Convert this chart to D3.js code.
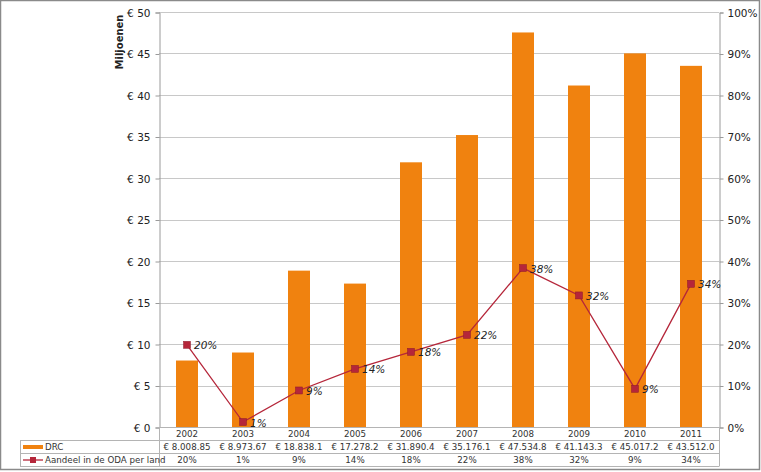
<!DOCTYPE html>
<html>
<head>
<meta charset="utf-8">
<script src="https://cdn.jsdelivr.net/npm/d3@7"></script>
<style>
  body { margin: 0; background: #fff; }
  text { font-family: "DejaVu Sans", Verdana, sans-serif; fill: #222; }
</style>
</head>
<body>
<div id="chart"></div>
<script>
// data
const years = ["2002","2003","2004","2005","2006","2007","2008","2009","2010","2011"];
const drc = [8.00885, 8.97367, 18.8381, 17.2782, 31.8904, 35.1761, 47.5348, 41.1433, 45.0172, 43.5120];
const drcLabels = ["€ 8.008.85","€ 8.973.67","€ 18.838.1","€ 17.278.2","€ 31.890.4","€ 35.176.1","€ 47.534.8","€ 41.143.3","€ 45.017.2","€ 43.512.0"];
const share = [19.8, 1.2, 8.8, 14.0, 18.1, 22.2, 38.3, 31.7, 9.2, 34.5];
const shareLabels = ["20%","1%","9%","14%","18%","22%","38%","32%","9%","34%"];
const leftTicks = [0,5,10,15,20,25,30,35,40,45,50];
const rightTicks = [0,10,20,30,40,50,60,70,80,90,100];

const W = 761, H = 472;
const plot = {left: 159, right: 719, top: 12, bottom: 427};
const tableLeft = 20, rowH = 13;
const font = "DejaVu Sans, Verdana, sans-serif";

const svg = d3.select("#chart").append("svg")
    .attr("width", W).attr("height", H);

// outer frame
svg.append("rect")
    .attr("x", 0.5).attr("y", 0.5).attr("width", W - 2).attr("height", H - 3)
    .attr("fill", "none").attr("stroke", "#8a8a8a").attr("stroke-width", 1.5);

const x = d3.scaleBand().domain(years).range([plot.left, plot.right]);
const y = d3.scaleLinear().domain([0, 50]).range([plot.bottom, plot.top]);
const y2 = d3.scaleLinear().domain([0, 100]).range([plot.bottom, plot.top]);

// gridlines
svg.append("g").selectAll("line")
  .data(leftTicks.filter(d => d > 0))
  .join("line")
    .attr("x1", plot.left).attr("x2", plot.right)
    .attr("y1", d => Math.round(y(d)) + 0.5).attr("y2", d => Math.round(y(d)) + 0.5)
    .attr("stroke", "#c8c8c8");

// left axis
const gl = svg.append("g").attr("transform", "translate(" + (plot.left + 0.5) + ",0.5)")
    .call(d3.axisLeft(y).tickValues(leftTicks).tickSize(4).tickFormat(d => "€ " + d));
gl.select(".domain").attr("stroke", "#9a9a9a");
gl.selectAll(".tick line").attr("stroke", "#9a9a9a");
gl.selectAll(".tick text").attr("x", -9).attr("dy", "0.35em")
    .style("font-size", "10.5px").style("fill", "#222").style("font-family", font);

// right axis
const gr = svg.append("g").attr("transform", "translate(" + (plot.right + 0.5) + ",0.5)")
    .call(d3.axisRight(y2).tickValues(rightTicks).tickSize(4).tickFormat(d => d + "%"));
gr.select(".domain").attr("stroke", "#9a9a9a");
gr.selectAll(".tick line").attr("stroke", "#9a9a9a");
gr.selectAll(".tick text").attr("x", 8).attr("dy", "0.35em")
    .style("font-size", "10.5px").style("fill", "#222").style("font-family", font);

// axis title
svg.append("text")
    .attr("transform", "translate(123,42) rotate(-90)")
    .attr("text-anchor", "middle")
    .style("font-size", "10px").style("font-weight", "bold")
    .text("Miljoenen");

// bars
const barW = 22;
svg.append("g").selectAll("rect")
  .data(drc)
  .join("rect")
    .attr("x", (d, i) => x(years[i]) + x.bandwidth() / 2 - barW / 2)
    .attr("y", d => y(d))
    .attr("width", barW)
    .attr("height", d => plot.bottom - y(d))
    .attr("fill", "#F0820F");

// line
const cx = i => x(years[i]) + x.bandwidth() / 2;
const line = d3.line().x((d, i) => cx(i)).y(d => y2(d));
svg.append("path")
    .datum(share)
    .attr("d", line)
    .attr("fill", "none")
    .attr("stroke", "#B5263A")
    .attr("stroke-width", 1.3);

svg.append("g").selectAll("rect")
  .data(share)
  .join("rect")
    .attr("x", (d, i) => cx(i) - 3.5)
    .attr("y", d => y2(d) - 3.5)
    .attr("width", 7).attr("height", 7)
    .attr("fill", "#B5263A")
    .attr("stroke", "#8e1a28").attr("stroke-width", 0.5);

svg.append("g").selectAll("text")
  .data(share)
  .join("text")
    .attr("x", (d, i) => cx(i) + 7)
    .attr("y", d => y2(d) + 4.5)
    .style("font-size", "10.5px").style("font-style", "italic")
    .style("fill", "#222")
    .text((d, i) => shareLabels[i]);

// data table
const tg = svg.append("g");
const r0 = plot.bottom, r1 = r0 + rowH, r2 = r1 + rowH, r3 = r2 + rowH;
const tableStroke = "#b4b4b4";
// horizontal lines
tg.append("line").attr("x1", plot.left).attr("x2", plot.right).attr("y1", r0 + 0.5).attr("y2", r0 + 0.5).attr("stroke", tableStroke);
[r1, r2, r3].forEach(r => {
  tg.append("line").attr("x1", tableLeft).attr("x2", plot.right).attr("y1", r + 0.5).attr("y2", r + 0.5).attr("stroke", tableStroke);
});
// vertical lines
tg.append("line").attr("x1", tableLeft + 0.5).attr("x2", tableLeft + 0.5).attr("y1", r1).attr("y2", r3 + 0.5).attr("stroke", tableStroke);
tg.append("line").attr("x1", plot.left + 0.5).attr("x2", plot.left + 0.5).attr("y1", r0).attr("y2", r3 + 0.5).attr("stroke", tableStroke);
tg.append("line").attr("x1", plot.right + 0.5).attr("x2", plot.right + 0.5).attr("y1", r0).attr("y2", r3 + 0.5).attr("stroke", tableStroke);

const cellText = (row, labels) => tg.append("g").selectAll("text")
  .data(labels)
  .join("text")
    .attr("x", (d, i) => cx(i))
    .attr("y", row + rowH - 3)
    .attr("text-anchor", "middle")
    .style("font-size", "8.7px").style("fill", "#333")
    .text(d => d);
cellText(r0, years);
cellText(r1, drcLabels);
cellText(r2, shareLabels);

// legend keys
tg.append("rect").attr("x", 23).attr("y", r1 + 5).attr("width", 20).attr("height", 4).attr("fill", "#F0820F");
tg.append("text").attr("x", 45).attr("y", r1 + rowH - 3).style("font-size", "8.7px").style("fill", "#333").text("DRC");
tg.append("line").attr("x1", 23).attr("x2", 43).attr("y1", r2 + 7).attr("y2", r2 + 7).attr("stroke", "#B5263A").attr("stroke-width", 1.3);
tg.append("rect").attr("x", 30).attr("y", r2 + 4).attr("width", 6).attr("height", 6).attr("fill", "#B5263A");
tg.append("text").attr("x", 45).attr("y", r2 + rowH - 3).style("font-size", "8.7px").style("fill", "#333").text("Aandeel in de ODA per land");
</script>
</body>
</html>
